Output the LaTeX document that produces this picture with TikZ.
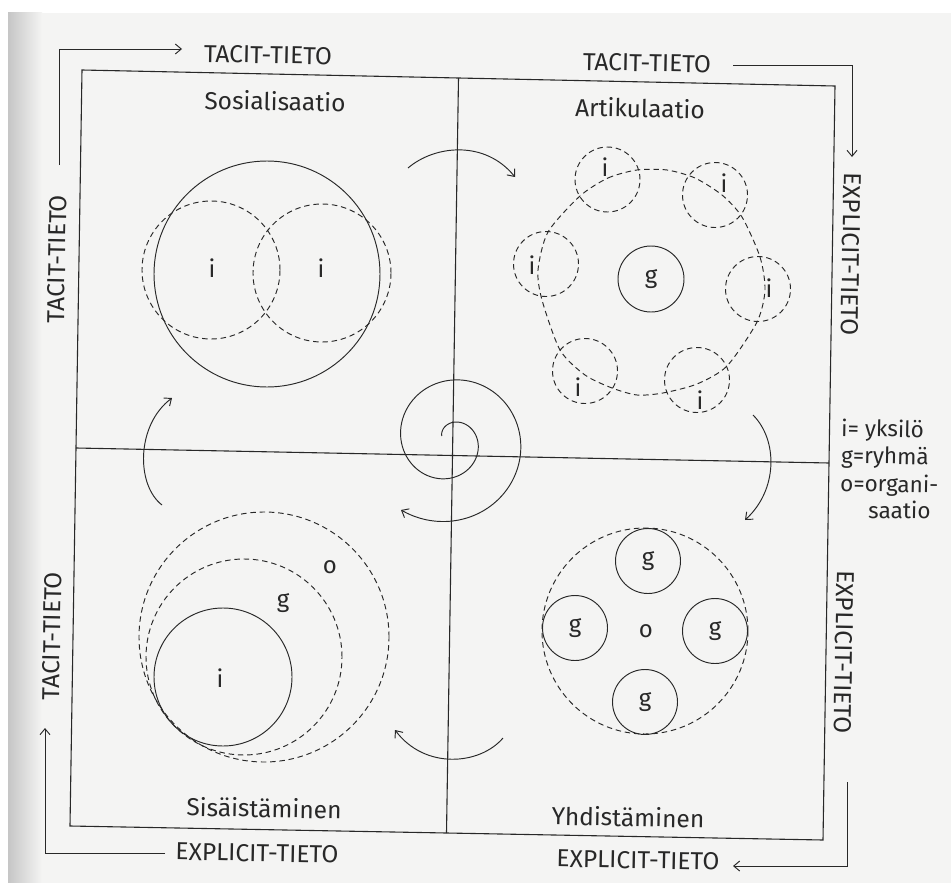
\documentclass[tikz,border=0pt]{standalone}
\usepackage{fontspec}
\setmainfont{Fira Sans}
\usetikzlibrary{arrows.meta,calc}
\definecolor{pagebg}{RGB}{244,244,243}
\definecolor{ink}{RGB}{40,40,40}
\begin{document}
\begin{tikzpicture}[x=1pt,y=-1pt,
  frameln/.style={draw=ink, line width=1.1pt},
  arr/.style={draw=ink, line width=0.95pt, -{Straight Barb[length=6pt,width=10pt]}},
  curvearr/.style={draw=ink, line width=0.95pt, -{Straight Barb[length=6pt,width=10pt]}},
  solidc/.style={circle, draw=ink, line width=0.95pt, inner sep=0pt, minimum size=#1},
  dashc/.style={solidc=#1, dash pattern=on 5.5pt off 3.8pt},
  dashln/.style={draw=ink, line width=0.95pt, dash pattern=on 5.5pt off 3.8pt},
  lbl/.style={font=\fontsize{24.5}{28}\selectfont, text=ink, inner sep=0pt, rotate=-1.1},
  sm/.style={font=\fontsize{24}{28}\selectfont, text=ink, inner sep=0pt},
  leg/.style={font=\fontsize{22.5}{26}\selectfont, text=ink, inner sep=0pt, anchor=base west, rotate=-1.1},
]
\useasboundingbox (0,0) rectangle (951,883);
% page
\fill[white] (0,0) rectangle (951,883);
\fill[pagebg] (8,13) rectangle (951,883);
\shade[left color=gray!45, right color=pagebg] (8,13) rectangle (42,883);

% frame
\coordinate (TL) at (82,70);
\coordinate (TR) at (835,86);
\coordinate (BR) at (823,840);
\coordinate (BL) at (70,826);
\draw[frameln] (TL) -- (TR) -- (BR) -- (BL) -- cycle;
\draw[frameln] ($(TL)!0.5!(TR)$) -- ($(BL)!0.5!(BR)$);
\draw[frameln] ($(TL)!0.5!(BL)$) -- ($(TR)!0.5!(BR)$);

% outer L arrows
\coordinate (a1s) at (59,165); \coordinate (a1c) at (59,49); \coordinate (a1e) at (182,49);
\draw[arr] (a1s) -- (a1c) -- (a1e);
\coordinate (a2s) at (733,65); \coordinate (a2c) at (852,65); \coordinate (a2e) at (852,157);
\draw[arr] (a2s) -- (a2c) -- (a2e);
\coordinate (a3s) at (165,853); \coordinate (a3c) at (45,853); \coordinate (a3e) at (45,728);
\draw[arr] (a3s) -- (a3c) -- (a3e);
\coordinate (a4s) at (847,782); \coordinate (a4c) at (847,866); \coordinate (a4e) at (733,866);
\draw[arr] (a4s) -- (a4c) -- (a4e);

% labels
\node[lbl] (t1) at (268,55) {TACIT-TIETO};
\node[lbl] (s1) at (275,101) {Sosialisaatio};
\node[lbl] (t2) at (647,63) {TACIT-TIETO};
\node[lbl] (s2) at (640,108) {Artikulaatio};
\node[lbl] (s3) at (264,808) {Sisäistäminen};
\node[lbl] (e1) at (257,853) {EXPLICIT-TIETO};
\node[lbl] (s4) at (628,817) {Yhdistäminen};
\node[lbl] (e2) at (638,860) {EXPLICIT-TIETO};
\node[lbl, rotate=90] (t3) at (57,259) {TACIT-TIETO};
\node[lbl, rotate=90] (t4) at (52,636) {TACIT-TIETO};
\node[lbl, rotate=-90] (e3) at (851,254) {EXPLICIT-TIETO};
\node[lbl, rotate=-90] (e4) at (844,652) {EXPLICIT-TIETO};

% legend
\node[leg] (l1) at (841,436) {i= yksilö};
\node[leg] (l2) at (841,463) {g=ryhmä};
\node[leg] (l3) at (840,491) {o=organi-};
\node[leg] (l4) at (868,518) {saatio};

% quadrant 1: socialisation
\node[solidc=226pt] (big) at (267,274) {};
\node[dashc=138pt] (ia) at (211,270) {};
\node[dashc=138pt] (ib) at (322,273) {};
\node[sm] (iat) at (212,268) {i};
\node[sm] (ibt) at (321,268) {i};

% quadrant 2: articulation
\node[solidc=66pt, sm] (g0) at (651,279) {g};
\node[dashc=65pt] (c1) at (607.5,179.5) {};
\node[dashc=65pt] (c2) at (715,195) {};
\node[dashc=65pt] (c3) at (758,289) {};
\node[dashc=65pt] (c4) at (697,380) {};
\node[dashc=65pt] (c5) at (585,371) {};
\node[dashc=65pt] (c6) at (546,264) {};
\node[sm] (c1t) at (605,167) {i};
\node[sm] (c2t) at (724,183) {i};
\node[sm] (c3t) at (769,288) {i};
\node[sm] (c4t) at (700,400) {i};
\node[sm] (c5t) at (578,387) {i};
\node[sm] (c6t) at (532,265) {i};
\draw[dashln] plot[smooth cycle, tension=0.45] coordinates {
  (580,196) (608,178) (637,170) (667,170) (695,178) (722,195) (742,217)
  (760,257) (765,290) (757,322) (727,366) (697,384) (663,393) (637,395)
  (612,388) (585,375) (560,350) (542,300) (538,270) (548,232)};

% quadrant 3: internalisation
\node[dashc=250pt] (oo) at (264,637) {};
\node[dashc=196pt] (gg) at (244,657) {};
\node[solidc=138pt] (ii) at (223,677) {};
\node[sm] (oot) at (330,567) {o};
\node[sm] (ggt) at (283,603) {g};
\node[sm] (iit) at (220,678) {i};

% quadrant 4: combination
\node[dashc=206pt] (org) at (645,631) {};
\node[solidc=65pt, sm] (gA) at (648,561) {g};
\node[solidc=65pt, sm] (gB) at (575,628) {g};
\node[solidc=65pt, sm] (gC) at (715,631) {g};
\node[solidc=65pt, sm] (gD) at (645,702) {g};
\node[sm] (orgt) at (646,631) {o};

% curved arrows between quadrants
\coordinate (k1s) at (408,168); \coordinate (k1e) at (515,177);
\draw[curvearr] (k1s) .. controls (435,145) and (485,140) .. (k1e);
\coordinate (k2s) at (753,415); \coordinate (k2e) at (745,520);
\draw[curvearr] (k2s) .. controls (778,440) and (778,490) .. (k2e);
\coordinate (k3s) at (503,738); \coordinate (k3e) at (395,730);
\draw[curvearr] (k3s) .. controls (480,765) and (425,770) .. (k3e);
\coordinate (k4s) at (162,505); \coordinate (k4e) at (172,398);
\draw[curvearr] (k4s) .. controls (136,485) and (136,425) .. (k4e);

% central spiral
\draw[curvearr] plot[domain=206:845, samples=140, smooth]
  ({450+(16.75+0.11944*(\x-270))*cos(\x)}, {440+(16.75+0.11944*(\x-270))*sin(\x)});
\end{tikzpicture}
\end{document}
